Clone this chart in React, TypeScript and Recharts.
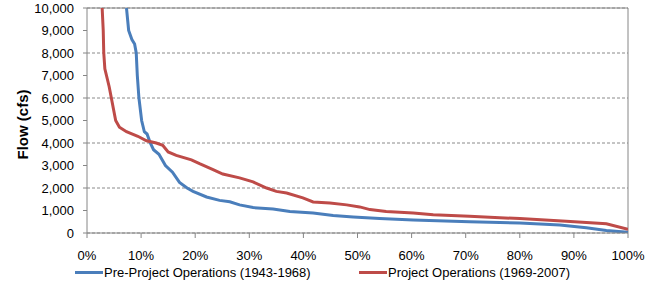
import React from 'react';
import { LineChart, Line, XAxis, YAxis, CartesianGrid, Legend, ReferenceLine } from 'recharts';

// exceedance percent (x) and flow in cfs (y)
const prePct = [7.3, 7.7, 8.3, 8.8, 9.1, 9.3, 9.6, 10.1, 10.6, 11.1, 11.7, 12.3, 13.3, 14.5, 15.8, 17.1, 18.5, 19.6, 22.1, 24.5, 26.4, 28.2, 30.7, 34.4, 37.5, 41.8, 45.5, 49.2, 54.1, 60.3, 70.7, 80, 87.4, 92.3, 96, 100];
const preFlow = [10000, 9000, 8600, 8400, 8000, 7000, 6000, 5000, 4500, 4400, 4000, 3700, 3500, 3000, 2700, 2250, 2000, 1850, 1600, 1450, 1390, 1250, 1130, 1070, 960, 890, 780, 710, 640, 580, 500, 440, 360, 230, 110, 30];

const postPct = [2.8, 3.0, 3.1, 3.3, 3.6, 4.1, 4.5, 4.9, 5.3, 6.0, 7.3, 9.4, 11, 12.8, 14, 15, 16.5, 19.3, 20.8, 23.3, 25.1, 28.2, 30.7, 33.2, 35, 36.9, 39.9, 41.8, 44.9, 48, 50.4, 52.3, 55.3, 60.3, 64, 70.7, 80, 88.6, 96, 100];
const postFlow = [10000, 9000, 8000, 7300, 7000, 6500, 6000, 5500, 5000, 4700, 4500, 4300, 4100, 4000, 3900, 3600, 3450, 3250, 3080, 2820, 2620, 2450, 2270, 2000, 1850, 1780, 1560, 1380, 1330, 1250, 1160, 1040, 960, 890, 810, 740, 640, 520, 410, 170];

const xTicks = [0, 10, 20, 30, 40, 50, 60, 70, 80, 90, 100];
const yTicks = [0, 1000, 2000, 3000, 4000, 5000, 6000, 7000, 8000, 9000, 10000];

const seriesNames = ['Pre-Project Operations (1943-1968)', 'Project Operations (1969-2007)'];
const BLUE = '#4a7ebb';
const RED = '#be4b48';

const preData = prePct.map((x, i) => ({ x, flow: preFlow[i] }));
const postData = postPct.map((x, i) => ({ x, flow: postFlow[i] }));

const font = '"Liberation Sans", Arial, sans-serif';

function ChartLegend() {
  const items = [
    { name: seriesNames[0], color: BLUE, left: 75 },
    { name: seriesNames[1], color: RED, left: 359 },
  ];
  return (
    <div style={{ position: 'relative', height: 16, fontFamily: font, fontSize: 13, color: '#000' }}>
      {items.map(it => (
        <div key={it.name} style={{ position: 'absolute', left: it.left, top: 0, height: 16, display: 'flex', alignItems: 'center', whiteSpace: 'nowrap' }}>
          <span style={{ display: 'inline-block', width: 28, height: 3, background: it.color, marginRight: 1 }} />
          <span>{it.name}</span>
        </div>
      ))}
    </div>
  );
}

function YTitle(props: any) {
  const vb = props.viewBox || { y: 8, height: 225 };
  const cy = vb.y + vb.height / 2 + 4;
  return (
    <text
      x={22}
      y={cy}
      transform={`rotate(-90, 22, ${cy})`}
      textAnchor="middle"
      dominantBaseline="central"
      style={{ fontWeight: 'bold', fontSize: 15, fontFamily: font, fill: '#000' }}
    >
      Flow (cfs)
    </text>
  );
}

export default function App() {
  return (
    <div style={{ position: 'absolute', left: 0, top: 0, background: '#fff' }}>
      <LineChart width={664} height={285} margin={{ top: 8, right: 36, left: 0, bottom: 0 }}>
        <CartesianGrid vertical={false} stroke="#8a8a8a" strokeDasharray="3 2" />
        <XAxis
          type="number"
          dataKey="x"
          domain={[0, 100]}
          ticks={xTicks}
          tickFormatter={v => `${v}%`}
          height={52}
          tickSize={5}
          tickMargin={13}
          stroke="#868686"
          tick={{ fill: '#000', fontSize: 13, fontFamily: font }}
          allowDataOverflow
        />
        <YAxis
          type="number"
          domain={[0, 10000]}
          ticks={yTicks}
          width={87}
          tickSize={4}
          tickMargin={9}
          stroke="#868686"
          tickFormatter={v => v.toLocaleString('en-US')}
          tick={{ fill: '#000', fontSize: 13, fontFamily: font }}
          allowDataOverflow
          label={<YTitle />}
        />
        <ReferenceLine y={10000} stroke="#868686" />
        <ReferenceLine x={100} stroke="#868686" />
        <Line data={preData} dataKey="flow" name={seriesNames[0]} type="linear" stroke={BLUE} strokeWidth={3} dot={false} isAnimationActive={false} />
        <Line data={postData} dataKey="flow" name={seriesNames[1]} type="linear" stroke={RED} strokeWidth={3} dot={false} isAnimationActive={false} />
        <Legend verticalAlign="middle" layout="horizontal" wrapperStyle={{ top: 264, left: 0, width: 664 }} content={() => <ChartLegend />} />
      </LineChart>
    </div>
  );
}
